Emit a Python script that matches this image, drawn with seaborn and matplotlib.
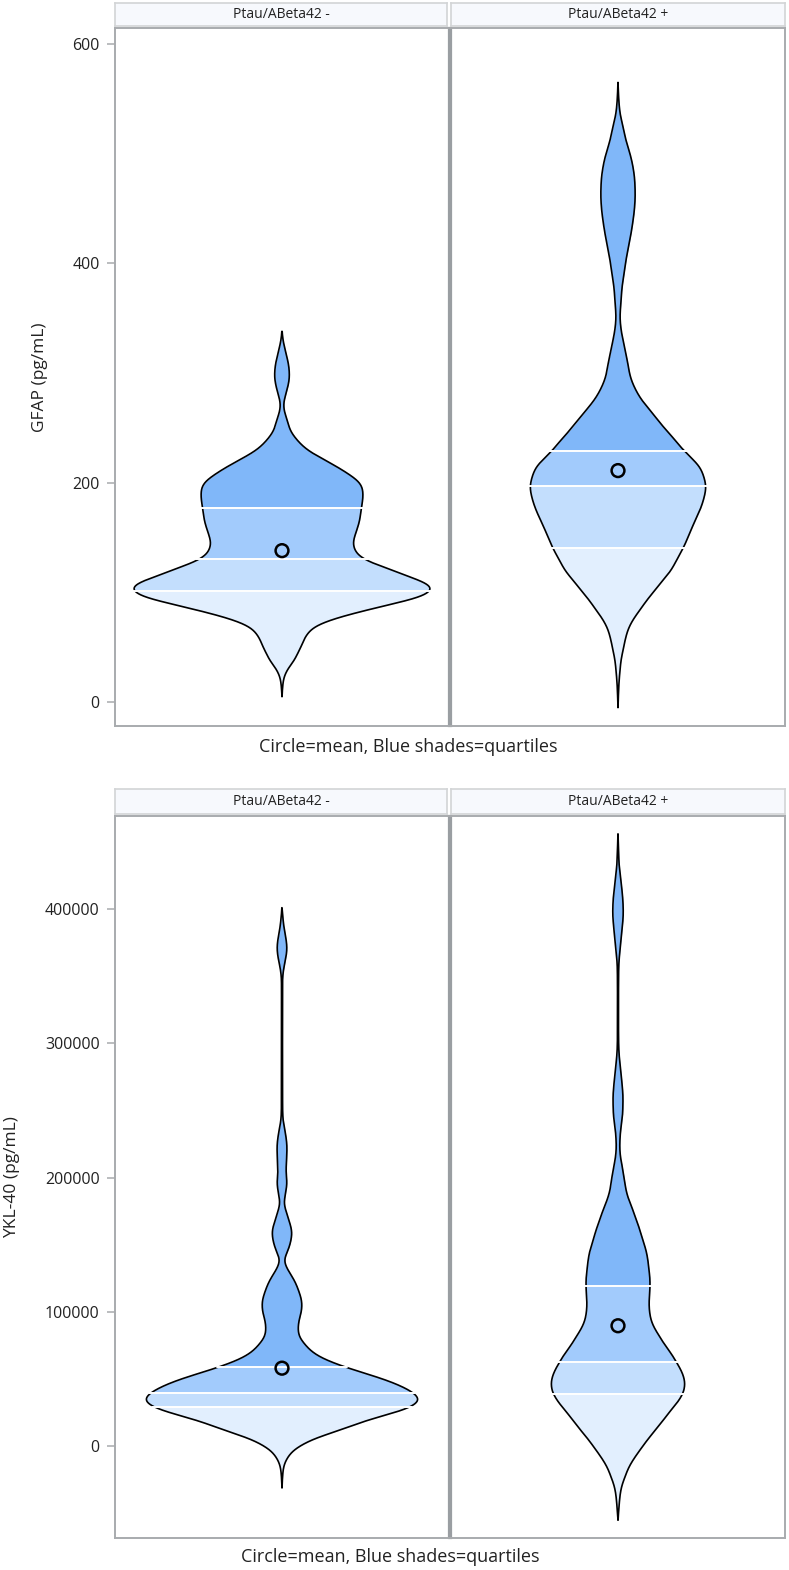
import numpy as np
import pandas as pd
import seaborn as sns
import matplotlib.pyplot as plt

# Datos: perfil de densidad de cada violin (valor, densidad relativa)
groups = ['Ptau/ABeta42 -', 'Ptau/ABeta42 +']

gfap_neg_y = [338, 330, 318, 305, 297, 288, 278, 272, 266, 258, 248, 240, 230, 222, 214, 207,
              200, 193, 187, 180, 175, 167, 160, 152, 145, 136, 130, 126, 122, 117, 112, 108,
              104, 100, 96, 92, 87, 82, 77, 72, 68, 63, 59, 55, 50, 45, 41, 36, 32, 27, 23, 15, 5]
gfap_neg_d = [0, 1, 4, 7, 7.5, 6, 3, 1.5, 2, 5, 8, 14, 25, 40, 56, 68,
              78, 81, 81, 80, 79, 78, 76, 73, 71, 74, 82, 92, 105, 119, 134, 146,
              151, 148, 140, 123, 99, 77, 56, 40, 31, 26, 23, 21, 19, 16, 14, 11, 7, 4, 2, 0.7, 0]

gfap_pos_y = [565, 550, 537, 525, 512, 500, 488, 475, 462, 451, 440, 427, 415, 403, 390, 378,
              365, 351, 340, 330, 321, 308, 302, 296, 284, 275, 266, 257, 248, 239, 230, 222,
              214, 205, 196, 186, 175, 165, 157, 148, 140, 130, 120, 111, 102, 93, 84, 75,
              66, 56, 47, 38, 29, 15, -5]
gfap_pos_d = [0, 0.7, 2, 5, 8, 12, 15, 16.8, 17.2, 16.6, 15.2, 13, 10.5, 8, 6, 4,
              3, 2, 3, 5, 7, 10, 11, 12.5, 18, 24, 32, 40, 48, 57, 65, 74,
              82, 86, 88, 86, 82, 77, 73, 69, 65, 59, 53, 45, 37, 29, 22, 15,
              10, 7, 5, 3, 2, 0.8, 0]

ykl_neg_y = [401, 395, 386, 378, 371, 364, 357, 350, 347, 300, 250, 243, 235, 222.6, 212, 205,
             196, 188, 181, 175, 168, 159, 150, 144, 138.5, 131, 124, 115, 106.5, 100, 94,
             86.4, 80, 76.7, 72, 69, 65, 61.8, 58, 54.4, 51, 47, 43, 39.5, 35, 32, 29, 25,
             21.6, 18, 14.1, 10, 6.7, 3, -0.7, -4, -8, -12, -15.6, -22, -31]
ykl_neg_d = [0, 0.7, 2, 4, 5, 4, 2, 0.7, 0.5, 0.5, 0.6, 1, 3, 5, 4.5, 4,
             5, 3.5, 2, 4, 7, 10, 8, 5, 2, 6, 12, 17, 20, 19.5, 17,
             16, 18, 22, 27, 32, 41, 52, 66, 82, 97, 112, 124, 132, 138, 136, 129, 114,
             96, 80, 66, 51, 36, 25, 16, 10, 6, 3, 1.5, 0.6, 0]

ykl_pos_y = [456, 445, 434, 424, 414, 405, 397, 388, 379, 368, 357, 340, 310, 297, 288, 280,
             270, 260, 248, 240, 233, 222.6, 215, 205.5, 198, 190.6, 183, 175.7, 168, 160.8,
             153, 146, 138, 131, 124, 118.4, 112, 106.5, 100, 93.8, 87, 81.2, 75, 69.2, 63,
             56.6, 51, 46.9, 41, 36.5, 31, 26.8, 20, 14.1, 8, 2.2, -4, -10.4, -17, -23, -29,
             -35, -45, -55]
ykl_pos_d = [0, 0.5, 1, 2.5, 4, 5, 5.3, 4.5, 3.3, 1.8, 0.7, 0.5, 0.5, 0.7, 1.5, 2.7,
             4, 5, 4.7, 3.5, 2.3, 1.7, 2.5, 5, 6.5, 8, 11, 15, 18.5, 22,
             25, 28, 30, 31, 32, 32, 31.5, 31, 31.5, 33, 37, 42, 47, 53, 58,
             63, 66, 67, 66, 63, 58, 53, 46, 40, 33, 27, 21, 15, 10, 7, 4,
             2.3, 1, 0]

# cuartiles (Q1, mediana, Q3) y medias
gfap_quart = [[101, 130, 177], [140, 197, 229]]
gfap_mean = [138, 211]
ykl_quart = [[29300, 39700, 59000], [38500, 62300, 119000]]
ykl_mean = [58000, 89600]

shades = ['#e2effe', '#c3defd', '#a2cbfc', '#80b7f9']
dens_scale = 1 / 334   # densidad relativa -> unidades de x del panel


def pchip(x, y, xn):
    # interpolacion cubica monotona (solo para dibujar el contorno suave)
    x = np.asarray(x, float)
    y = np.asarray(y, float)
    h = np.diff(x)
    d = np.diff(y) / h
    m = np.zeros_like(y)
    for k in range(1, len(x) - 1):
        if d[k - 1] * d[k] > 0:
            w1 = 2 * h[k] + h[k - 1]
            w2 = h[k] + 2 * h[k - 1]
            m[k] = (w1 + w2) / (w1 / d[k - 1] + w2 / d[k])
    m[0], m[-1] = d[0], d[-1]
    idx = np.clip(np.searchsorted(x, xn) - 1, 0, len(x) - 2)
    t = (xn - x[idx]) / h[idx]
    h00 = 2 * t**3 - 3 * t**2 + 1
    h10 = t**3 - 2 * t**2 + t
    h01 = -2 * t**3 + 3 * t**2
    h11 = t**3 - t**2
    return h00 * y[idx] + h10 * h[idx] * m[idx] + h01 * y[idx + 1] + h11 * h[idx] * m[idx + 1]


def draw_violin(ax, ys, ds, quart, mean, factor, sigma):
    df = pd.DataFrame({'y': np.array(ys) * factor, 'd': ds}).sort_values('y')
    grid = np.linspace(df['y'].min(), df['y'].max(), 2000)
    hw = np.clip(pchip(df['y'].values, df['d'].values, grid), 0, None)
    # suavizado ligero del contorno
    step = grid[1] - grid[0]
    k = np.arange(-int(4 * sigma / step), int(4 * sigma / step) + 1) * step
    kern = np.exp(-0.5 * (k / sigma) ** 2)
    kern /= kern.sum()
    hw = np.convolve(hw, kern, mode='same')
    hw[0] = hw[-1] = 0
    hw = hw * dens_scale
    qw = np.interp(quart, grid, hw)
    order = np.argsort(np.concatenate([grid, quart]), kind='stable')
    grid = np.concatenate([grid, quart])[order]
    hw = np.concatenate([hw, qw])[order]
    edges = [grid[0]] + list(quart) + [grid[-1]]
    for i in range(4):
        sel = (grid >= edges[i]) & (grid <= edges[i + 1])
        ax.fill_betweenx(grid[sel], -hw[sel], hw[sel], color=shades[i], lw=0, zorder=2)
    ax.plot(np.concatenate([hw, -hw[::-1]]), np.concatenate([grid, grid[::-1]]),
            color='black', lw=1.2, zorder=3)
    for q, w in zip(quart, qw):
        w = w + 2.5 / 334
        ax.plot([-w, w], [q, q], color='white', lw=1.4, zorder=4)
    sns.scatterplot(x=[0], y=[mean], ax=ax, s=85, marker='o', facecolor='none',
                    edgecolor='black', linewidth=1.8, zorder=5)


sns.set_style('white')
plt.rcParams['font.family'] = ['Open Sans', 'DejaVu Sans']

fig = plt.figure(figsize=(7.89, 15.70), dpi=100)
W, H = 789, 1570


def make_axes(x0, x1, top, bottom):
    return fig.add_axes([x0 / W, 1 - bottom / H, (x1 - x0) / W, (bottom - top) / H])


def header(x0, x1, top, bottom, label):
    hax = make_axes(x0, x1, top, bottom)
    hax.set_xticks([])
    hax.set_yticks([])
    hax.set_facecolor('#f7f9fd')
    for s in hax.spines.values():
        s.set_color('#d2d4d6')
        s.set_linewidth(1.2)
    hax.text(0.5, 0.5, label, ha='center', va='center', fontsize=10, color='#222222',
             transform=hax.transAxes)


panels = [
    dict(top=28, bottom=726, htop=3, hbot=26, ylim=(-21.9, 614.6), ticks=[0, 200, 400, 600],
         ys=[gfap_neg_y, gfap_pos_y], ds=[gfap_neg_d, gfap_pos_d], quart=gfap_quart,
         mean=gfap_mean, factor=1, ylabel='GFAP (pg/mL)', labx=-0.20, xl=(408, 747)),
    dict(top=816, bottom=1538, htop=789, hbot=814, ylim=(-68500, 469300),
         ticks=[0, 100000, 200000, 300000, 400000],
         ys=[ykl_neg_y, ykl_pos_y], ds=[ykl_neg_d, ykl_pos_d], quart=ykl_quart,
         mean=ykl_mean, factor=1000, ylabel='YKL-40 (pg/mL)', labx=-0.285, xl=(390, 1557)),
]

xs = [(115, 449), (451, 785)]
for p in panels:
    rng = p['ylim'][1] - p['ylim'][0]
    sigma = 4.0 / (p['bottom'] - p['top']) * rng
    for j in range(2):
        ax = make_axes(xs[j][0], xs[j][1], p['top'], p['bottom'])
        draw_violin(ax, p['ys'][j], p['ds'][j], p['quart'][j], p['mean'][j], p['factor'], sigma)
        ax.set_xlim(-0.5, 0.5)
        ax.set_ylim(*p['ylim'])
        ax.set_xticks([])
        for s in ax.spines.values():
            s.set_color('#a8abae')
            s.set_linewidth(1.4)
        if j == 0:
            ax.spines['right'].set_color('#9a9ea2')
            ax.spines['right'].set_linewidth(1.6)
            ax.set_yticks(p['ticks'])
            ax.set_yticklabels([str(t) for t in p['ticks']])
            ax.tick_params(axis='y', left=True, length=6, width=1.1, color='#a8abae',
                           labelsize=11.5, labelcolor='#222222', pad=5)
            ax.set_ylabel(p['ylabel'], fontsize=12.5, color='#222222')
            ax.yaxis.set_label_coords(p['labx'], 0.5)
        else:
            ax.spines['left'].set_color('#9a9ea2')
            ax.spines['left'].set_linewidth(1.6)
            ax.set_yticks([])
        ax.set_xlabel('')
        header(xs[j][0], xs[j][1] - (2 if j == 0 else 0), p['htop'], p['hbot'], groups[j])
    fig.text(p['xl'][0] / W, 1 - p['xl'][1] / H, 'Circle=mean, Blue shades=quartiles',
             ha='center', va='center', fontsize=13, color='#222222')

fig.savefig('out.png', dpi=100)
